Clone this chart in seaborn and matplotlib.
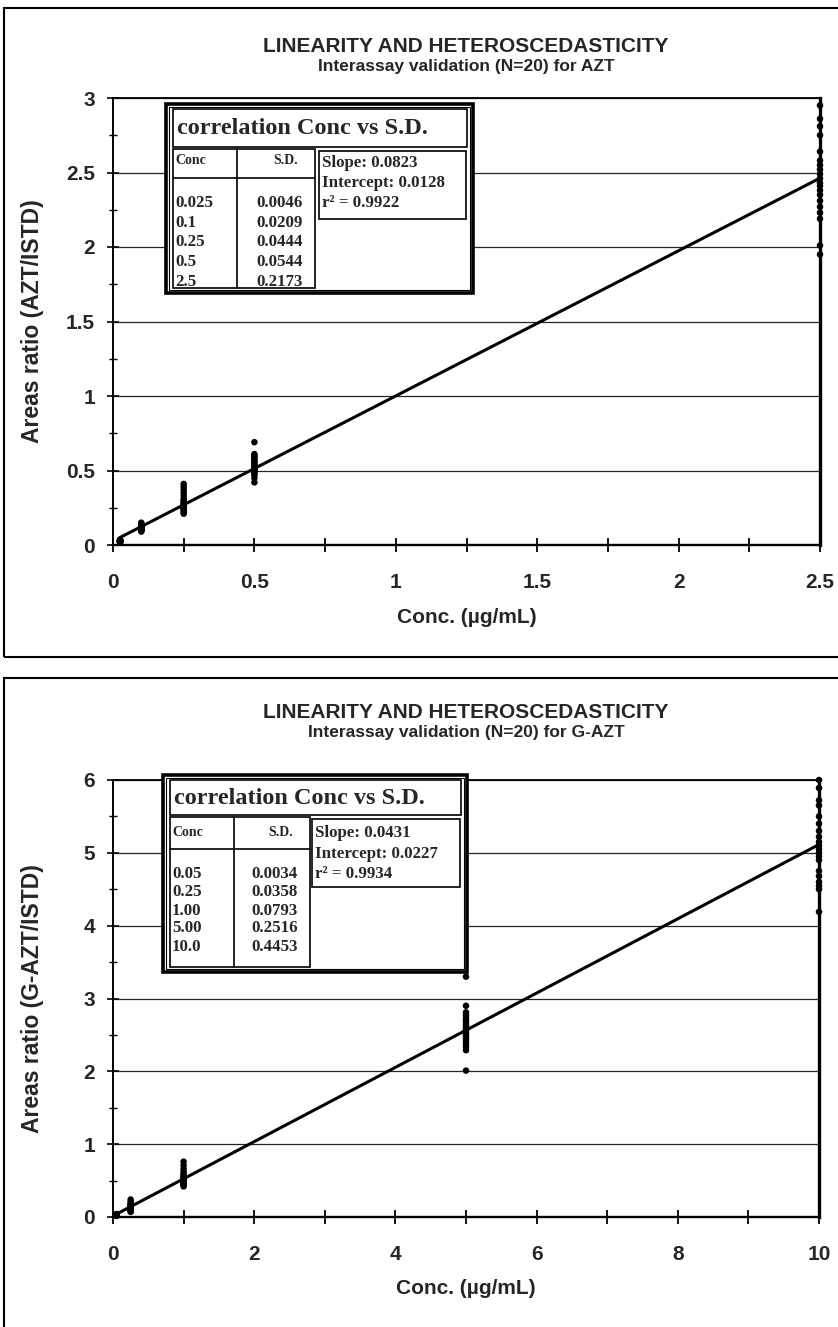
import numpy as np
import pandas as pd
import matplotlib
matplotlib.use('Agg')
import matplotlib.pyplot as plt
import seaborn as sns
from matplotlib.patches import Rectangle
from matplotlib.lines import Line2D
from matplotlib.ticker import MultipleLocator, FuncFormatter

# ---- data ----
azt_conc = [0.025, 0.1, 0.25, 0.5, 2.5]
azt_ratio = [
    [0.015, 0.018, 0.020, 0.021, 0.022, 0.023, 0.024, 0.025, 0.025, 0.026,
     0.026, 0.027, 0.028, 0.028, 0.029, 0.030, 0.031, 0.032, 0.034, 0.036],
    [0.09, 0.095, 0.10, 0.10, 0.105, 0.105, 0.11, 0.11, 0.11, 0.115,
     0.115, 0.12, 0.12, 0.12, 0.125, 0.13, 0.13, 0.135, 0.14, 0.15],
    [0.21, 0.22, 0.23, 0.24, 0.24, 0.25, 0.25, 0.26, 0.26, 0.27,
     0.27, 0.28, 0.29, 0.30, 0.31, 0.33, 0.35, 0.37, 0.39, 0.41],
    [0.42, 0.45, 0.47, 0.48, 0.49, 0.50, 0.50, 0.51, 0.52, 0.52,
     0.53, 0.54, 0.55, 0.56, 0.57, 0.58, 0.59, 0.60, 0.61, 0.69],
    [2.95, 2.86, 2.81, 2.75, 2.64, 2.58, 2.55, 2.52, 2.49, 2.46,
     2.43, 2.41, 2.38, 2.35, 2.31, 2.27, 2.23, 2.19, 2.01, 1.95],
]
gazt_conc = [0.05, 0.25, 1.0, 5.0, 10.0]
gazt_ratio = [
    [0.015, 0.018, 0.020, 0.022, 0.023, 0.024, 0.025, 0.026, 0.027, 0.028,
     0.029, 0.030, 0.031, 0.032, 0.033, 0.034, 0.035, 0.036, 0.038, 0.040],
    [0.07, 0.08, 0.09, 0.10, 0.10, 0.11, 0.11, 0.12, 0.12, 0.12,
     0.13, 0.13, 0.14, 0.14, 0.15, 0.16, 0.17, 0.19, 0.21, 0.24],
    [0.42, 0.44, 0.45, 0.46, 0.47, 0.48, 0.49, 0.50, 0.50, 0.51,
     0.52, 0.53, 0.54, 0.55, 0.57, 0.59, 0.62, 0.66, 0.71, 0.76],
    [3.30, 2.90, 2.81, 2.77, 2.73, 2.70, 2.67, 2.64, 2.61, 2.58,
     2.56, 2.53, 2.50, 2.47, 2.44, 2.41, 2.37, 2.33, 2.29, 2.01],
    [6.00, 5.89, 5.72, 5.65, 5.50, 5.40, 5.30, 5.22, 5.15, 5.10,
     5.05, 5.00, 4.95, 4.90, 4.75, 4.68, 4.60, 4.55, 4.50, 4.19],
]

azt_table_conc = ['0.025', '0.1', '0.25', '0.5', '2.5']
azt_table_sd = ['0.0046', '0.0209', '0.0444', '0.0544', '0.2173']
azt_stats = ['Slope: 0.0823', 'Intercept: 0.0128', 'r\u00b2 = 0.9922']
gazt_table_conc = ['0.05', '0.25', '1.00', '5.00', '10.0']
gazt_table_sd = ['0.0034', '0.0358', '0.0793', '0.2516', '0.4453']
gazt_stats = ['Slope: 0.0431', 'Intercept: 0.0227', 'r\u00b2 = 0.9934']

W, H = 838, 1327
SANS = 'Liberation Sans'
SERIF = 'Liberation Serif'


def to_frame(conc, ratio):
    rows = []
    for c, vals in zip(conc, ratio):
        for v in vals:
            rows.append((c, v))
    return pd.DataFrame(rows, columns=['conc', 'ratio'])


def fx(x):
    return x / W


def fy(y):
    return 1 - y / H


def rect(fig, x0, y0, x1, y1, lw=1.0, fill=False, z=4):
    fig.add_artist(Rectangle((fx(x0), fy(y1)), (x1 - x0) / W, (y1 - y0) / H,
                             transform=fig.transFigure, lw=lw, edgecolor='black',
                             facecolor='white' if fill else 'none', zorder=z))


def line(fig, x0, y0, x1, y1, lw=1.0):
    fig.add_artist(Line2D([fx(x0), fx(x1)], [fy(y0), fy(y1)],
                          transform=fig.transFigure, color='black', lw=lw, zorder=5))


def txt(fig, x, y, s, size, ha='left', family=SERIF):
    fig.text(fx(x), fy(y), s, ha=ha, va='center', fontsize=size,
             fontweight='bold', family=family, zorder=6)


def draw_panel(ax, df, xmax, xmajor, xminor, ymax, ymajor, yminor, ylabel):
    sns.regplot(data=df, x='conc', y='ratio', ax=ax, scatter=False, ci=None,
                truncate=True, color='black', line_kws={'lw': 2.2})
    sns.scatterplot(data=df, x='conc', y='ratio', ax=ax, color='black', s=22,
                    edgecolor='none', zorder=4, clip_on=False)
    ax.set_xlim(0, xmax)
    ax.set_ylim(0, ymax)
    ax.xaxis.set_major_locator(MultipleLocator(xmajor))
    ax.xaxis.set_minor_locator(MultipleLocator(xminor))
    ax.yaxis.set_major_locator(MultipleLocator(ymajor))
    ax.yaxis.set_minor_locator(MultipleLocator(yminor))
    ax.tick_params(axis='x', which='both', bottom=True, direction='inout',
                   length=10, width=1.3, pad=15, labelsize=15, color='black')
    ax.tick_params(axis='y', which='major', left=True, direction='inout',
                   length=8, width=1.2, pad=9, labelsize=15, color='black')
    ax.tick_params(axis='y', which='minor', left=True, direction='inout',
                   length=6, width=1.0, color='black')
    ax.yaxis.set_major_formatter(FuncFormatter(lambda v, p: f'{v:g}'))
    ax.xaxis.set_major_formatter(FuncFormatter(lambda v, p: f'{v:g}'))
    for lab in ax.get_xticklabels() + ax.get_yticklabels():
        lab.set_fontweight('bold')
        lab.set_family(SANS)
    ax.grid(axis='y', which='major', color='0.15', lw=0.9)
    ax.grid(axis='x', visible=False)
    for side, lw in [('left', 1.4), ('bottom', 1.7), ('top', 1.3), ('right', 2.4)]:
        ax.spines[side].set_visible(True)
        ax.spines[side].set_color('black')
        ax.spines[side].set_linewidth(lw)
    ax.set_xlabel('Conc. (\u00b5g/mL)', fontsize=15, fontweight='bold', family=SANS)
    ax.set_ylabel(ylabel, fontsize=16.5, fontweight='bold', family=SANS)
    ax.yaxis.set_label_coords(-0.098, 0.5)


def draw_inset(fig, conc_labels, sd_labels, stats, geo):
    (ox0, oy0, ox1, oy1, tb_y1, tab_x1, tab_y1, div_x, hdr_y,
     st_x0, st_y1, rows_y, hdr_text_y, stats_y, title_y) = geo
    rect(fig, ox0, oy0, ox1, oy1, lw=2.6, fill=True, z=3)
    rect(fig, ox0 + 3, oy0 + 3, ox1 - 3, oy1 - 3, lw=0.8)
    rect(fig, ox0 + 7, oy0 + 5, ox1 - 6, tb_y1, lw=1.2)
    rect(fig, ox0 + 7, tb_y1 + 2, tab_x1, tab_y1, lw=1.2)
    line(fig, div_x, tb_y1 + 2, div_x, tab_y1, lw=1.2)
    line(fig, ox0 + 7, hdr_y, tab_x1, hdr_y, lw=1.2)
    rect(fig, st_x0, tb_y1 + 4, ox1 - 7, st_y1, lw=1.2)
    txt(fig, ox0 + 11, title_y, 'correlation Conc vs S.D.', 17.5)
    txt(fig, ox0 + 9, hdr_text_y, 'Conc', 10)
    txt(fig, tab_x1 - 17, hdr_text_y, 'S.D.', 10, ha='right')
    for yy, c, s in zip(rows_y, conc_labels, sd_labels):
        txt(fig, ox0 + 9, yy, c, 12.2)
        txt(fig, tab_x1 - 12, yy, s, 12.2, ha='right')
    for yy, s in zip(stats_y, stats):
        txt(fig, st_x0 + 3, yy, s, 12.2)


sns.set_style('ticks')
plt.rcParams['font.family'] = [SANS, 'DejaVu Sans']

fig = plt.figure(figsize=(W / 100, H / 100), dpi=100)
ax1 = fig.add_axes([fx(113), fy(545), 707 / W, (545 - 98) / H])
ax2 = fig.add_axes([fx(113), fy(1217), 706 / W, (1217 - 780) / H])

draw_panel(ax1, to_frame(azt_conc, azt_ratio), 2.5, 0.5, 0.25, 3, 0.5, 0.25,
           'Areas ratio (AZT/ISTD)')
ax1.xaxis.set_label_coords(0.5, -0.14)
draw_panel(ax2, to_frame(gazt_conc, gazt_ratio), 10, 2, 1, 6, 1, 0.5,
           'Areas ratio (G-AZT/ISTD)')
ax2.xaxis.set_label_coords(0.5, -0.143)

# outer panel frames
rect(fig, 4, 8, 845, 657, lw=1.5, z=1)
rect(fig, 4, 678, 845, 1335, lw=1.5, z=1)

# titles
txt(fig, 466, 47, 'LINEARITY AND HETEROSCEDASTICITY', 15, ha='center', family=SANS)
txt(fig, 466, 66, 'Interassay validation (N=20) for AZT', 12.5, ha='center', family=SANS)
txt(fig, 466, 713, 'LINEARITY AND HETEROSCEDASTICITY', 15, ha='center', family=SANS)
txt(fig, 466, 732, 'Interassay validation (N=20) for G-AZT', 12.5, ha='center', family=SANS)

draw_inset(fig, azt_table_conc, azt_table_sd, azt_stats,
           (166, 104, 473, 293, 147, 315, 288, 237, 178, 319, 219,
            [203, 223, 242, 262, 282], 161, [163, 183, 203], 128))
draw_inset(fig, gazt_table_conc, gazt_table_sd, gazt_stats,
           (163, 775, 467, 972, 815, 310, 967, 234, 849, 312, 887,
            [874, 892, 911, 928, 947], 832, [833, 854, 874], 798))

fig.savefig('out.png', dpi=100)
